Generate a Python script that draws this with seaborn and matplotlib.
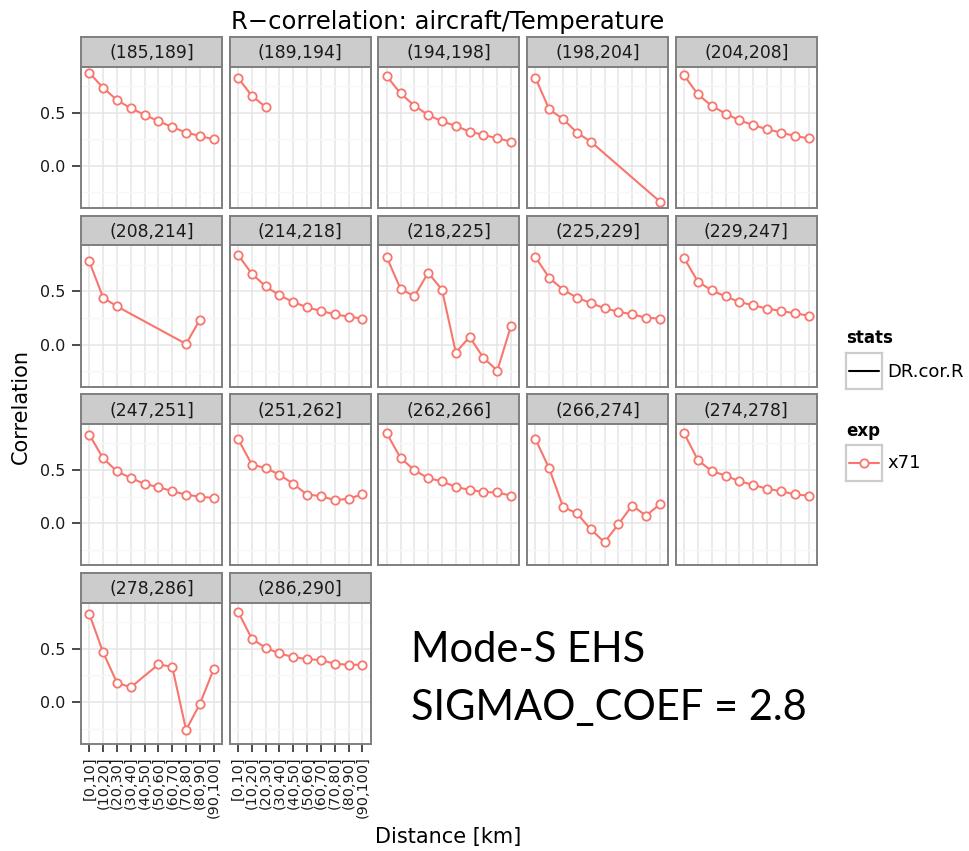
import matplotlib
matplotlib.use("Agg")
import matplotlib.pyplot as plt
import numpy as np
import pandas as pd
import seaborn as sns

sns.set_style("white")
plt.rcParams["font.family"] = ["DejaVu Sans"]
plt.rcParams["text.color"] = "black"

# Distance classes on the x axis
distance_bins = ["[0,10]", "(10,20]", "(20,30]", "(30,40]", "(40,50]",
                 "(50,60]", "(60,70]", "(70,80]", "(80,90]", "(90,100]"]

# Facet labels (aircraft temperature classes)
panel_labels = ["(185,189]", "(189,194]", "(194,198]", "(198,204]", "(204,208]",
                "(208,214]", "(214,218]", "(218,225]", "(225,229]", "(229,247]",
                "(247,251]", "(251,262]", "(262,266]", "(266,274]", "(274,278]",
                "(278,286]", "(286,290]"]

# Correlation per distance class (None = no data for that class)
r_185_189 = [0.875, 0.734, 0.619, 0.541, 0.481, 0.419, 0.366, 0.313, 0.281, 0.250]
r_189_194 = [0.828, 0.659, 0.553, None, None, None, None, None, None, None]
r_194_198 = [0.844, 0.681, 0.566, 0.478, 0.419, 0.375, 0.322, 0.291, 0.259, 0.228]
r_198_204 = [0.828, 0.531, 0.441, 0.313, 0.228, None, None, None, None, -0.335]
r_204_208 = [0.850, 0.672, 0.563, 0.491, 0.428, 0.384, 0.344, 0.313, 0.281, 0.259]
r_208_214 = [0.781, 0.441, 0.359, None, None, None, None, 0.006, 0.234, None]
r_214_218 = [0.844, 0.666, 0.547, 0.463, 0.400, 0.350, 0.316, 0.284, 0.263, 0.244]
r_218_225 = [0.822, 0.525, 0.453, 0.675, 0.516, -0.075, 0.072, -0.125, -0.244, 0.178]
r_225_229 = [0.822, 0.628, 0.516, 0.441, 0.391, 0.341, 0.309, 0.284, 0.253, 0.244]
r_229_247 = [0.813, 0.591, 0.509, 0.453, 0.400, 0.369, 0.338, 0.316, 0.294, 0.272]
r_247_251 = [0.833, 0.611, 0.488, 0.426, 0.370, 0.340, 0.302, 0.269, 0.250, 0.238]
r_251_262 = [0.793, 0.552, 0.519, 0.457, 0.370, 0.269, 0.256, 0.216, 0.231, 0.272]
r_262_266 = [0.846, 0.614, 0.500, 0.423, 0.395, 0.340, 0.315, 0.293, 0.290, 0.259]
r_266_274 = [0.793, 0.515, 0.154, 0.093, -0.056, -0.179, -0.009, 0.167, 0.071, 0.179]
r_274_278 = [0.846, 0.593, 0.491, 0.448, 0.395, 0.361, 0.324, 0.302, 0.272, 0.259]
r_278_286 = [0.828, 0.466, 0.181, 0.138, None, 0.353, 0.331, -0.263, -0.019, 0.309]
r_286_290 = [0.850, 0.594, 0.509, 0.456, 0.422, 0.403, 0.394, 0.359, 0.350, 0.350]

series = [r_185_189, r_189_194, r_194_198, r_198_204, r_204_208,
          r_208_214, r_214_218, r_218_225, r_225_229, r_229_247,
          r_247_251, r_251_262, r_262_266, r_266_274, r_274_278,
          r_278_286, r_286_290]

rows = []
for label, vals in zip(panel_labels, series):
    for pos, (dist, v) in enumerate(zip(distance_bins, vals)):
        if v is not None:
            rows.append({"temp": label, "dist": dist, "pos": pos, "corr": v})
df = pd.DataFrame(rows)

RED = "#F8766D"
GRID_MAJOR = "#E5E5E5"
GRID_MINOR = "#F7F7F7"
BORDER = "#7F7F7F"
INK = "#1A1A1A"

W, H = 969, 851
fig = plt.figure(figsize=(W / 100, H / 100), dpi=100)


def box(x, y_top, w, h):
    return [x / W, 1 - (y_top + h) / H, w / W, h / H]


ncol = 5
n_panels = len(panel_labels)
last_row = (n_panels - 1) // ncol
ymin, ymax = -0.396, 0.934
line_kw = dict(marker="o", markersize=6.0, markerfacecolor="white",
               markeredgecolor=RED, markeredgewidth=1.3, linewidth=1.5)

for k, label in enumerate(panel_labels):
    r, c = divmod(k, ncol)
    left = 81 + c * 148.7
    strip_top = 37 + r * 178.7
    strip_h = 29.5
    panel_h = 141.5

    # facet strip
    sax = fig.add_axes(box(left, strip_top, 141, strip_h))
    sax.set_facecolor("#CCCCCC")
    sax.set_xticks([])
    sax.set_yticks([])
    for sp in sax.spines.values():
        sp.set_color(BORDER)
        sp.set_linewidth(1.4)
    sax.text(0.5, 0.46, label, ha="center", va="center", fontsize=12.4,
             color=INK, transform=sax.transAxes)

    # panel
    ax = fig.add_axes(box(left, strip_top + strip_h, 141, panel_h))
    ax.set_facecolor("white")
    sub = df[df["temp"] == label]
    sns.lineplot(data=sub, x="pos", y="corr", ax=ax, color=RED,
                 errorbar=None, zorder=3, **line_kw)
    ax.set_xlim(-0.6, 9.6)
    ax.set_ylim(ymin, ymax)
    ax.set_xticks(range(len(distance_bins)))
    ax.set_yticks([0.0, 0.5])
    ax.set_yticks([-0.25, 0.25, 0.75], minor=True)
    ax.set_axisbelow(True)
    ax.grid(which="major", color=GRID_MAJOR, linewidth=1.1)
    ax.grid(which="minor", axis="y", color=GRID_MINOR, linewidth=1.0)
    ax.set_xlabel("")
    ax.set_ylabel("")
    for sp in ax.spines.values():
        sp.set_visible(True)
        sp.set_color(BORDER)
        sp.set_linewidth(1.4)
        sp.set_zorder(4)

    ax.tick_params(which="minor", length=0)
    if c == 0:
        ax.set_yticklabels(["0.0", "0.5"])
        ax.tick_params(axis="y", left=True, length=6.5, width=1.1, color=INK,
                       labelsize=11.5, pad=5, labelcolor=INK)
    else:
        ax.tick_params(axis="y", length=0, labelleft=False)
    if r == last_row:
        ax.set_xticklabels(distance_bins, rotation=90)
        ax.tick_params(axis="x", bottom=True, length=6, width=1.1, color=INK,
                       labelsize=10.4, pad=3, labelcolor=INK)
    else:
        ax.tick_params(axis="x", length=0, labelbottom=False)

# titles
fig.text(448 / W, 1 - 29 / H, "R\u2212correlation: aircraft/Temperature",
         ha="center", va="baseline", fontsize=17.5, color="black")
fig.text(448.5 / W, 1 - 843 / H, "Distance [km]", ha="center", va="baseline",
         fontsize=15, color="black")
fig.text(20.5 / W, 1 - 406 / H, "Correlation", ha="center", va="center",
         rotation=90, fontsize=15, color="black")

# legends
fig.text(846 / W, 1 - 338 / H, "stats", ha="left", va="center",
         fontsize=12, fontweight="bold", color="black")
kax = fig.add_axes(box(846, 353, 36, 36))
kax.plot([0.08, 0.92], [0.5, 0.5], color="black", linewidth=1.5)
fig.text(887 / W, 1 - 372 / H, "DR.cor.R", ha="left", va="center",
         fontsize=13, color="black")

fig.text(846 / W, 1 - 431 / H, "exp", ha="left", va="center",
         fontsize=12, fontweight="bold", color="black")
kax2 = fig.add_axes(box(846, 445, 36, 36))
kax2.plot([0.08, 0.92], [0.5, 0.5], color=RED, linewidth=1.5)
kax2.plot([0.5], [0.5], marker="o", markersize=6.0, markerfacecolor="white",
          markeredgecolor=RED, markeredgewidth=1.3)
fig.text(887 / W, 1 - 463 / H, "x71", ha="left", va="center",
         fontsize=13, color="black")
for a in (kax, kax2):
    a.set_xlim(0, 1)
    a.set_ylim(0, 1)
    a.set_xticks([])
    a.set_yticks([])
    for sp in a.spines.values():
        sp.set_visible(True)
        sp.set_color("#CCCCCC")
        sp.set_linewidth(1.6)

# annotation
fig.text(411 / W, 1 - 662 / H, "Mode-S EHS", ha="left", va="baseline",
         fontsize=30, family=["Lato", "DejaVu Sans"], color="black")
fig.text(411 / W, 1 - 720 / H, "SIGMAO_COEF = 2.8", ha="left", va="baseline",
         fontsize=30, family=["Lato", "DejaVu Sans"], color="black")

fig.savefig("out.png", dpi=100, facecolor="white")
